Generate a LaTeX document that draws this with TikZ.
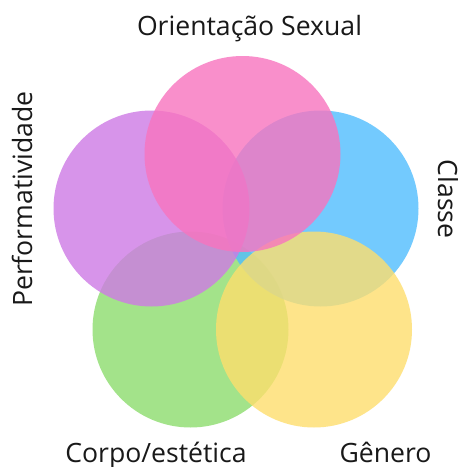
\documentclass[tikz,border=0pt]{standalone}
\usepackage{fontspec}
\setmainfont{Open Sans}
\definecolor{cpink}{RGB}{248,116,191}
\definecolor{cpurple}{RGB}{206,122,229}
\definecolor{cblue}{RGB}{81,189,254}
\definecolor{cgreen}{RGB}{140,220,109}
\definecolor{cyellow}{RGB}{254,222,109}
\tikzset{
  ring/.style={circle, minimum size=196pt, inner sep=0pt, fill opacity=0.8},
  lbl/.style={font=\fontsize{26.6}{30}\selectfont, text=black!90, inner sep=0pt, anchor=base},
}
\begin{document}
\begin{tikzpicture}[x=1pt,y=-1pt]
\useasboundingbox[fill=white] (0,0) rectangle (458,467);
\node[ring, fill=cgreen] (green) at (190.5,329.5) {};
\node[ring, fill=cblue] (blue) at (320.5,208.5) {};
\node[ring, fill=cyellow] (yellow) at (314,329.5) {};
\node[ring, fill=cpurple] (purple) at (151.5,208.5) {};
\node[ring, fill=cpink] (pink) at (242.5,154) {};
\node[lbl] (orient) at (249.5,35) {Orientação Sexual};
\node[lbl] (corpo) at (156,462) {Corpo/estética};
\node[lbl] (genero) at (385.5,462) {Gênero};
\node[lbl, rotate=90] (perf) at (32,199) {Performatividade};
\node[lbl, rotate=-90] (classe) at (438,199) {Classe};
\end{tikzpicture}
\end{document}
